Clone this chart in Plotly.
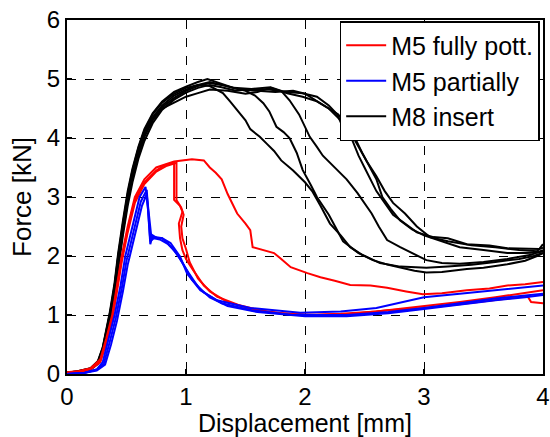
import plotly.graph_objects as go

# ---- data: displacement [mm] / force [kN] ----
rise_black_x = [0.0, 0.1, 0.2, 0.26, 0.3, 0.33, 0.36, 0.40, 0.43, 0.47, 0.51, 0.55, 0.6, 0.65, 0.72, 0.8, 0.9]
m8_1_x = rise_black_x + [1.0, 1.1, 1.2, 1.31, 1.37, 1.43, 1.5, 1.54, 1.62, 1.68, 1.74, 1.8, 1.9, 2.0, 2.06, 2.13, 2.21, 2.3, 2.38, 2.48, 2.57, 2.7, 2.8, 2.92, 3.02, 3.15, 3.36, 3.5, 3.7, 3.85, 3.95, 4.0]
m8_1_y = [0.02, 0.04, 0.09, 0.2, 0.42, 0.7, 1.0, 1.45, 1.95, 2.5, 3.0, 3.4, 3.8, 4.1, 4.35, 4.55, 4.72, 4.82, 4.9, 4.88, 4.76, 4.62, 4.47, 4.3, 4.15, 4.02, 3.9, 3.78, 3.62, 3.45, 3.25, 3.1, 2.85, 2.55, 2.35, 2.15, 2.02, 1.93, 1.85, 1.8, 1.75, 1.72, 1.73, 1.78, 1.8, 1.86, 1.92, 2.0, 2.05]

m8_2_x = rise_black_x + [1.0, 1.1, 1.2, 1.3, 1.4, 1.5, 1.58, 1.65, 1.7, 1.76, 1.82, 1.87, 1.93, 1.98, 2.05, 2.1, 2.2, 2.32, 2.45, 2.55, 2.63, 2.8, 3.02, 3.2, 3.4, 3.6, 3.8, 3.92, 4.0]
m8_2_y = [0.02, 0.04, 0.08, 0.18, 0.38, 0.65, 0.95, 1.4, 1.88, 2.42, 2.92, 3.32, 3.72, 4.02, 4.3, 4.52, 4.68, 4.8, 4.88, 4.93, 4.9, 4.85, 4.8, 4.72, 4.59, 4.45, 4.19, 4.1, 4.0, 3.75, 3.46, 3.2, 3.0, 2.7, 2.25, 2.05, 1.95, 1.88, 1.82, 1.8, 1.82, 1.85, 1.9, 1.95, 2.0, 2.05, 1.98]

m8_3_x = rise_black_x + [1.0, 1.1, 1.18, 1.3, 1.4, 1.55, 1.71, 1.8, 1.87, 1.95, 2.04, 2.1, 2.15, 2.27, 2.35, 2.44, 2.5, 2.56, 2.62, 2.69, 2.8, 2.88, 3.02, 3.15, 3.3, 3.5, 3.7, 3.9, 4.0]
m8_3_y = [0.02, 0.05, 0.1, 0.22, 0.45, 0.75, 1.05, 1.55, 2.05, 2.6, 3.1, 3.48, 3.85, 4.15, 4.42, 4.62, 4.78, 4.87, 4.95, 5.0, 4.92, 4.85, 4.83, 4.86, 4.8, 4.64, 4.4, 4.02, 3.85, 3.7, 3.46, 3.3, 3.07, 2.9, 2.72, 2.5, 2.27, 2.15, 2.07, 1.93, 1.88, 1.87, 1.9, 1.95, 2.02, 2.1]

m8_4_x = rise_black_x + [1.0, 1.1, 1.2, 1.3, 1.42, 1.55, 1.7, 1.85, 1.98, 2.1, 2.2, 2.27, 2.33, 2.4, 2.45, 2.5, 2.55, 2.6, 2.67, 2.74, 2.84, 2.94, 3.08, 3.2, 3.36, 3.55, 3.7, 3.85, 3.97, 4.0]
m8_4_y = [0.02, 0.04, 0.08, 0.17, 0.36, 0.62, 0.92, 1.35, 1.82, 2.35, 2.85, 3.25, 3.65, 3.95, 4.25, 4.48, 4.65, 4.77, 4.85, 4.9, 4.86, 4.8, 4.83, 4.82, 4.78, 4.76, 4.7, 4.55, 4.4, 4.13, 3.95, 3.7, 3.5, 3.3, 3.1, 2.9, 2.7, 2.55, 2.4, 2.32, 2.3, 2.2, 2.18, 2.13, 2.12, 2.12, 2.14, 2.16, 2.15]

m8_5_x = rise_black_x + [1.0, 1.1, 1.2, 1.3, 1.45, 1.6, 1.75, 1.9, 2.0, 2.12, 2.2, 2.28, 2.35, 2.42, 2.48, 2.55, 2.6, 2.65, 2.72, 2.8, 2.9, 3.0, 3.15, 3.3, 3.5, 3.7, 3.85, 3.96, 4.0]
m8_5_y = [0.02, 0.05, 0.1, 0.21, 0.44, 0.72, 1.02, 1.5, 2.0, 2.55, 3.05, 3.45, 3.83, 4.12, 4.4, 4.6, 4.75, 4.85, 4.9, 4.95, 4.9, 4.82, 4.8, 4.78, 4.8, 4.75, 4.6, 4.5, 4.4, 4.2, 4.0, 3.75, 3.5, 3.3, 3.0, 2.8, 2.6, 2.45, 2.35, 2.25, 2.15, 2.1, 2.05, 2.05, 2.06, 2.08, 2.12, 2.1]

m8_6_x = rise_black_x + [1.0, 1.1, 1.2, 1.35, 1.5, 1.6, 1.71, 1.85, 1.98, 2.1, 2.2, 2.3, 2.38, 2.45, 2.52, 2.6, 2.67, 2.74, 2.84, 2.94, 3.05, 3.2, 3.4, 3.6, 3.8, 3.95, 3.97, 4.0]
m8_6_y = [0.02, 0.04, 0.09, 0.19, 0.4, 0.68, 0.98, 1.48, 1.97, 2.5, 3.0, 3.4, 3.78, 4.05, 4.32, 4.5, 4.6, 4.7, 4.76, 4.82, 4.8, 4.75, 4.78, 4.85, 4.76, 4.7, 4.62, 4.5, 4.3, 4.1, 3.85, 3.6, 3.35, 3.1, 2.9, 2.72, 2.5, 2.32, 2.25, 2.18, 2.15, 2.1, 2.08, 2.12, 2.2, 1.95, 2.0]

m5f_1_x = [0.0, 0.1, 0.2, 0.28, 0.33, 0.38, 0.42, 0.46, 0.51, 0.57, 0.65, 0.75, 0.9, 1.05, 1.15, 1.2, 1.25, 1.3, 1.35, 1.43, 1.5, 1.54, 1.56, 1.65, 1.74, 1.8, 1.88, 2.02, 2.13, 2.25, 2.38, 2.55, 2.69, 2.85, 2.99, 3.15, 3.36, 3.55, 3.7, 3.85, 4.0]
m5f_1_y = [0.03, 0.05, 0.1, 0.25, 0.6, 1.0, 1.5, 2.0, 2.5, 3.0, 3.3, 3.5, 3.6, 3.64, 3.62, 3.5, 3.41, 3.3, 3.05, 2.72, 2.55, 2.44, 2.15, 2.1, 2.05, 1.95, 1.81, 1.71, 1.64, 1.58, 1.51, 1.5, 1.46, 1.4, 1.35, 1.37, 1.42, 1.45, 1.5, 1.52, 1.56]

m5f_2_x = [0.0, 0.1, 0.2, 0.28, 0.33, 0.38, 0.42, 0.46, 0.51, 0.57, 0.65, 0.75, 0.82, 0.88, 0.9, 0.9, 0.95, 0.97, 0.94, 0.95, 0.97, 1.0, 1.06, 1.15, 1.26, 1.44, 1.68, 2.0, 2.3, 2.6, 3.0, 3.3, 3.6, 3.8, 4.0]
m5f_2_y = [0.02, 0.04, 0.09, 0.22, 0.55, 0.95, 1.45, 1.95, 2.45, 2.95, 3.25, 3.45, 3.54, 3.58, 3.58, 2.95, 2.85, 2.75, 2.55, 2.3, 2.1, 1.95, 1.76, 1.5, 1.31, 1.17, 1.05, 1.0, 1.02, 1.06, 1.15, 1.22, 1.3, 1.36, 1.42]

m5f_3_x = [0.0, 0.1, 0.2, 0.28, 0.33, 0.38, 0.42, 0.46, 0.51, 0.57, 0.65, 0.75, 0.84, 0.92, 0.92, 0.96, 0.98, 0.96, 0.97, 1.0, 1.03, 1.1, 1.2, 1.35, 1.55, 1.8, 2.1, 2.4, 2.7, 3.0, 3.3, 3.6, 3.8, 3.87, 3.9, 4.0]
m5f_3_y = [0.0, 0.03, 0.08, 0.2, 0.52, 0.92, 1.4, 1.9, 2.4, 2.9, 3.22, 3.43, 3.53, 3.58, 2.95, 2.82, 2.7, 2.5, 2.3, 2.12, 1.9, 1.62, 1.4, 1.22, 1.1, 1.03, 1.0, 1.02, 1.08, 1.12, 1.18, 1.25, 1.3, 1.32, 1.22, 1.2]

m5p_1_x = [0.0, 0.15, 0.25, 0.3, 0.35, 0.4, 0.45, 0.49, 0.55, 0.61, 0.66, 0.68, 0.7, 0.72, 0.76, 0.8, 0.87, 0.95, 1.01, 1.12, 1.26, 1.54, 1.96, 2.3, 2.6, 3.0, 3.3, 3.6, 3.8, 4.0]
m5p_1_y = [0.0, 0.02, 0.08, 0.2, 0.6, 1.0, 1.5, 2.0, 2.5, 3.0, 3.17, 2.8, 2.2, 2.35, 2.3, 2.3, 2.22, 1.99, 1.7, 1.42, 1.25, 1.12, 1.04, 1.06, 1.12, 1.3, 1.36, 1.42, 1.46, 1.5]

m5p_2_x = [0.0, 0.15, 0.25, 0.31, 0.36, 0.41, 0.46, 0.5, 0.56, 0.62, 0.67, 0.69, 0.7, 0.73, 0.78, 0.85, 0.92, 0.98, 1.05, 1.15, 1.3, 1.55, 1.9, 2.35, 2.7, 3.0, 3.3, 3.6, 3.85, 4.0]
m5p_2_y = [0.0, 0.02, 0.07, 0.18, 0.55, 0.95, 1.45, 1.92, 2.42, 2.92, 3.12, 2.6, 2.25, 2.3, 2.28, 2.2, 2.05, 1.85, 1.6, 1.38, 1.2, 1.08, 1.0, 1.0, 1.05, 1.12, 1.2, 1.28, 1.33, 1.36]

m5p_3_x = [0.0, 0.15, 0.25, 0.32, 0.37, 0.42, 0.47, 0.51, 0.57, 0.63, 0.67, 0.69, 0.71, 0.74, 0.8, 0.88, 0.95, 1.02, 1.1, 1.2, 1.35, 1.6, 2.0, 2.35, 2.7, 3.0, 3.3, 3.6, 3.85, 4.0]
m5p_3_y = [0.0, 0.02, 0.06, 0.16, 0.5, 0.9, 1.4, 1.85, 2.35, 2.85, 3.05, 2.7, 2.3, 2.32, 2.3, 2.15, 1.95, 1.72, 1.48, 1.3, 1.15, 1.05, 0.98, 0.98, 1.03, 1.1, 1.18, 1.25, 1.3, 1.34]

legend_names = ["M5 fully pott.", "M5 partially", "M8 insert"]
x_ticks = [0, 1, 2, 3, 4]
y_ticks = [0, 1, 2, 3, 4, 5, 6]

groups = [
    (legend_names[2], "black", [(m8_1_x, m8_1_y), (m8_2_x, m8_2_y), (m8_3_x, m8_3_y),
                                 (m8_4_x, m8_4_y), (m8_5_x, m8_5_y), (m8_6_x, m8_6_y)]),
    (legend_names[0], "#ff0000", [(m5f_1_x, m5f_1_y), (m5f_2_x, m5f_2_y), (m5f_3_x, m5f_3_y)]),
    (legend_names[1], "#0000ff", [(m5p_1_x, m5p_1_y), (m5p_2_x, m5p_2_y), (m5p_3_x, m5p_3_y)]),
]
legend_rank = {legend_names[0]: 1, legend_names[1]: 2, legend_names[2]: 3}

fig = go.Figure()
for name, color, curves in groups:
    for i, (xs, ys) in enumerate(curves):
        fig.add_trace(go.Scatter(
            x=xs, y=ys, mode="lines", name=name, legendgroup=name,
            showlegend=(i == 0), legendrank=legend_rank[name],
            line=dict(color=color, width=2)))

font_family = "Liberation Sans, Arial, sans-serif"
axis_common = dict(
    showline=True, linecolor="black", linewidth=2, mirror=True,
    ticks="inside", ticklen=5, tickcolor="black", tickwidth=1.5,
    showgrid=True, gridcolor="black", griddash="dash", gridwidth=1,
    zeroline=False, automargin=False,
    tickfont=dict(size=24, color="black", family=font_family),
)
fig.update_xaxes(range=[0, 4], tickvals=x_ticks,
                 title=dict(text="Displacement [mm]", font=dict(size=25, color="black", family=font_family), standoff=7),
                 **axis_common)
fig.update_yaxes(range=[0, 6], tickvals=y_ticks,
                 title=dict(text="Force [kN]", font=dict(size=26, color="black", family=font_family), standoff=8),
                 **axis_common)

fig.update_layout(
    width=550, height=437,
    margin=dict(l=67, r=7, t=20, b=63),
    paper_bgcolor="white", plot_bgcolor="white",
    font=dict(family=font_family, color="black"),
    legend=dict(x=0.993, xanchor="right", y=0.997, yanchor="top",
                bgcolor="white", bordercolor="black", borderwidth=1.5,
                font=dict(size=25, color="black", family=font_family),
                tracegroupgap=0, itemwidth=40),
    showlegend=True,
)

fig.write_html("out.html", config={"displayModeBar": False},
               post_script="document.body.style.margin='0px';")
